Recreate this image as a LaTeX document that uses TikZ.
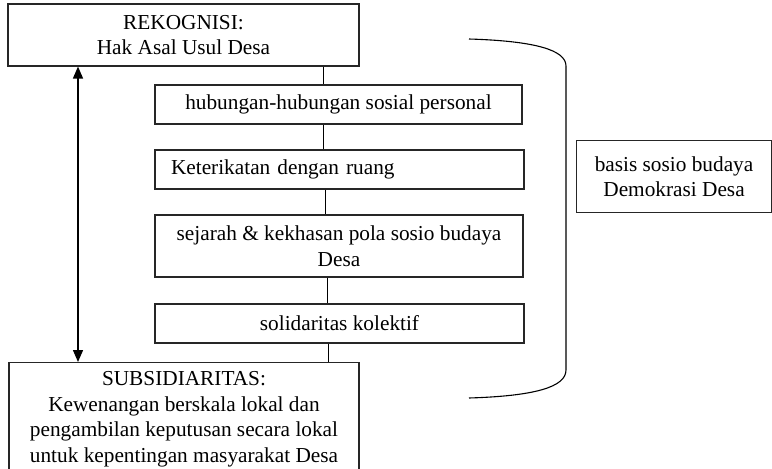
\documentclass[tikz,border=0pt]{standalone}
\usepackage{fontspec}
\setmainfont{Liberation Serif}
\usetikzlibrary{arrows.meta}
\begin{document}
\begin{tikzpicture}[x=1pt,y=-1pt,
  box/.style={draw=black!85,line width=1.1pt,inner sep=0pt,align=center,
    font=\fontsize{21.3}{25.5}\selectfont},
  link/.style={draw=black,line width=1pt},
  dbl/.style={line width=1.4pt,{Triangle[width=10pt,length=12pt]}-{Triangle[width=10pt,length=12pt]}}]
\path[use as bounding box] (0,0) rectangle (772,469);
\clip (0,0) rectangle (772,469);
\node[box,minimum width=351,minimum height=62] (rek) at (183.5,35) {REKOGNISI:\\Hak Asal Usul Desa};
\node[box,minimum width=367,minimum height=39] (hub) at (338.5,104.5) {hubungan-hubungan sosial personal};
\node[box,minimum width=369,minimum height=39,text width=337,inner xsep=16,align=left] (ket) at (339.5,169.5) {Keterikatan dengan ruang};
\node[box,minimum width=368,minimum height=62] (sej) at (339,246) {sejarah \& kekhasan pola sosio budaya\\Desa};
\node[box,minimum width=369,minimum height=39] (sol) at (339.5,323.5) {solidaritas kolektif};
\node[box,minimum width=350,minimum height=130,anchor=north] (sub) at (184,362) {\rule{0pt}{0pt}};
\node[box,draw=none,anchor=north] (subt) at (184,371) {SUBSIDIARITAS:\\Kewenangan berskala lokal dan\\pengambilan keputusan secara lokal\\untuk kepentingan masyarakat Desa};
\node[box,minimum width=195,minimum height=72,anchor=north west] (bas) at (576,140) {basis sosio budaya\\Demokrasi Desa};
\coordinate (c1) at (323,0);
\coordinate (c2) at (325,0);
\coordinate (c3) at (327,0);
\coordinate (c4) at (328,0);
\draw[link] (rek.south -| c1) -- (hub.north -| c1);
\draw[link] (hub.south -| c1) -- (ket.north -| c1);
\draw[link] (ket.south -| c2) -- (sej.north -| c2);
\draw[link] (sej.south -| c3) -- (sol.north -| c3);
\draw[link] (sol.south -| c4) -- (sub.north -| c4);
\coordinate (ax) at (78,0);
\draw[dbl] (rek.south -| ax) -- (sub.north -| ax);
\coordinate (bt) at (469,39);
\coordinate (bb) at (469,398);
\draw[line width=1.1pt] (bt) .. controls (535,41) and (566,50) .. (566,66) -- (566,370) .. controls (566,387) and (535,396) .. (bb);
\end{tikzpicture}
\end{document}
